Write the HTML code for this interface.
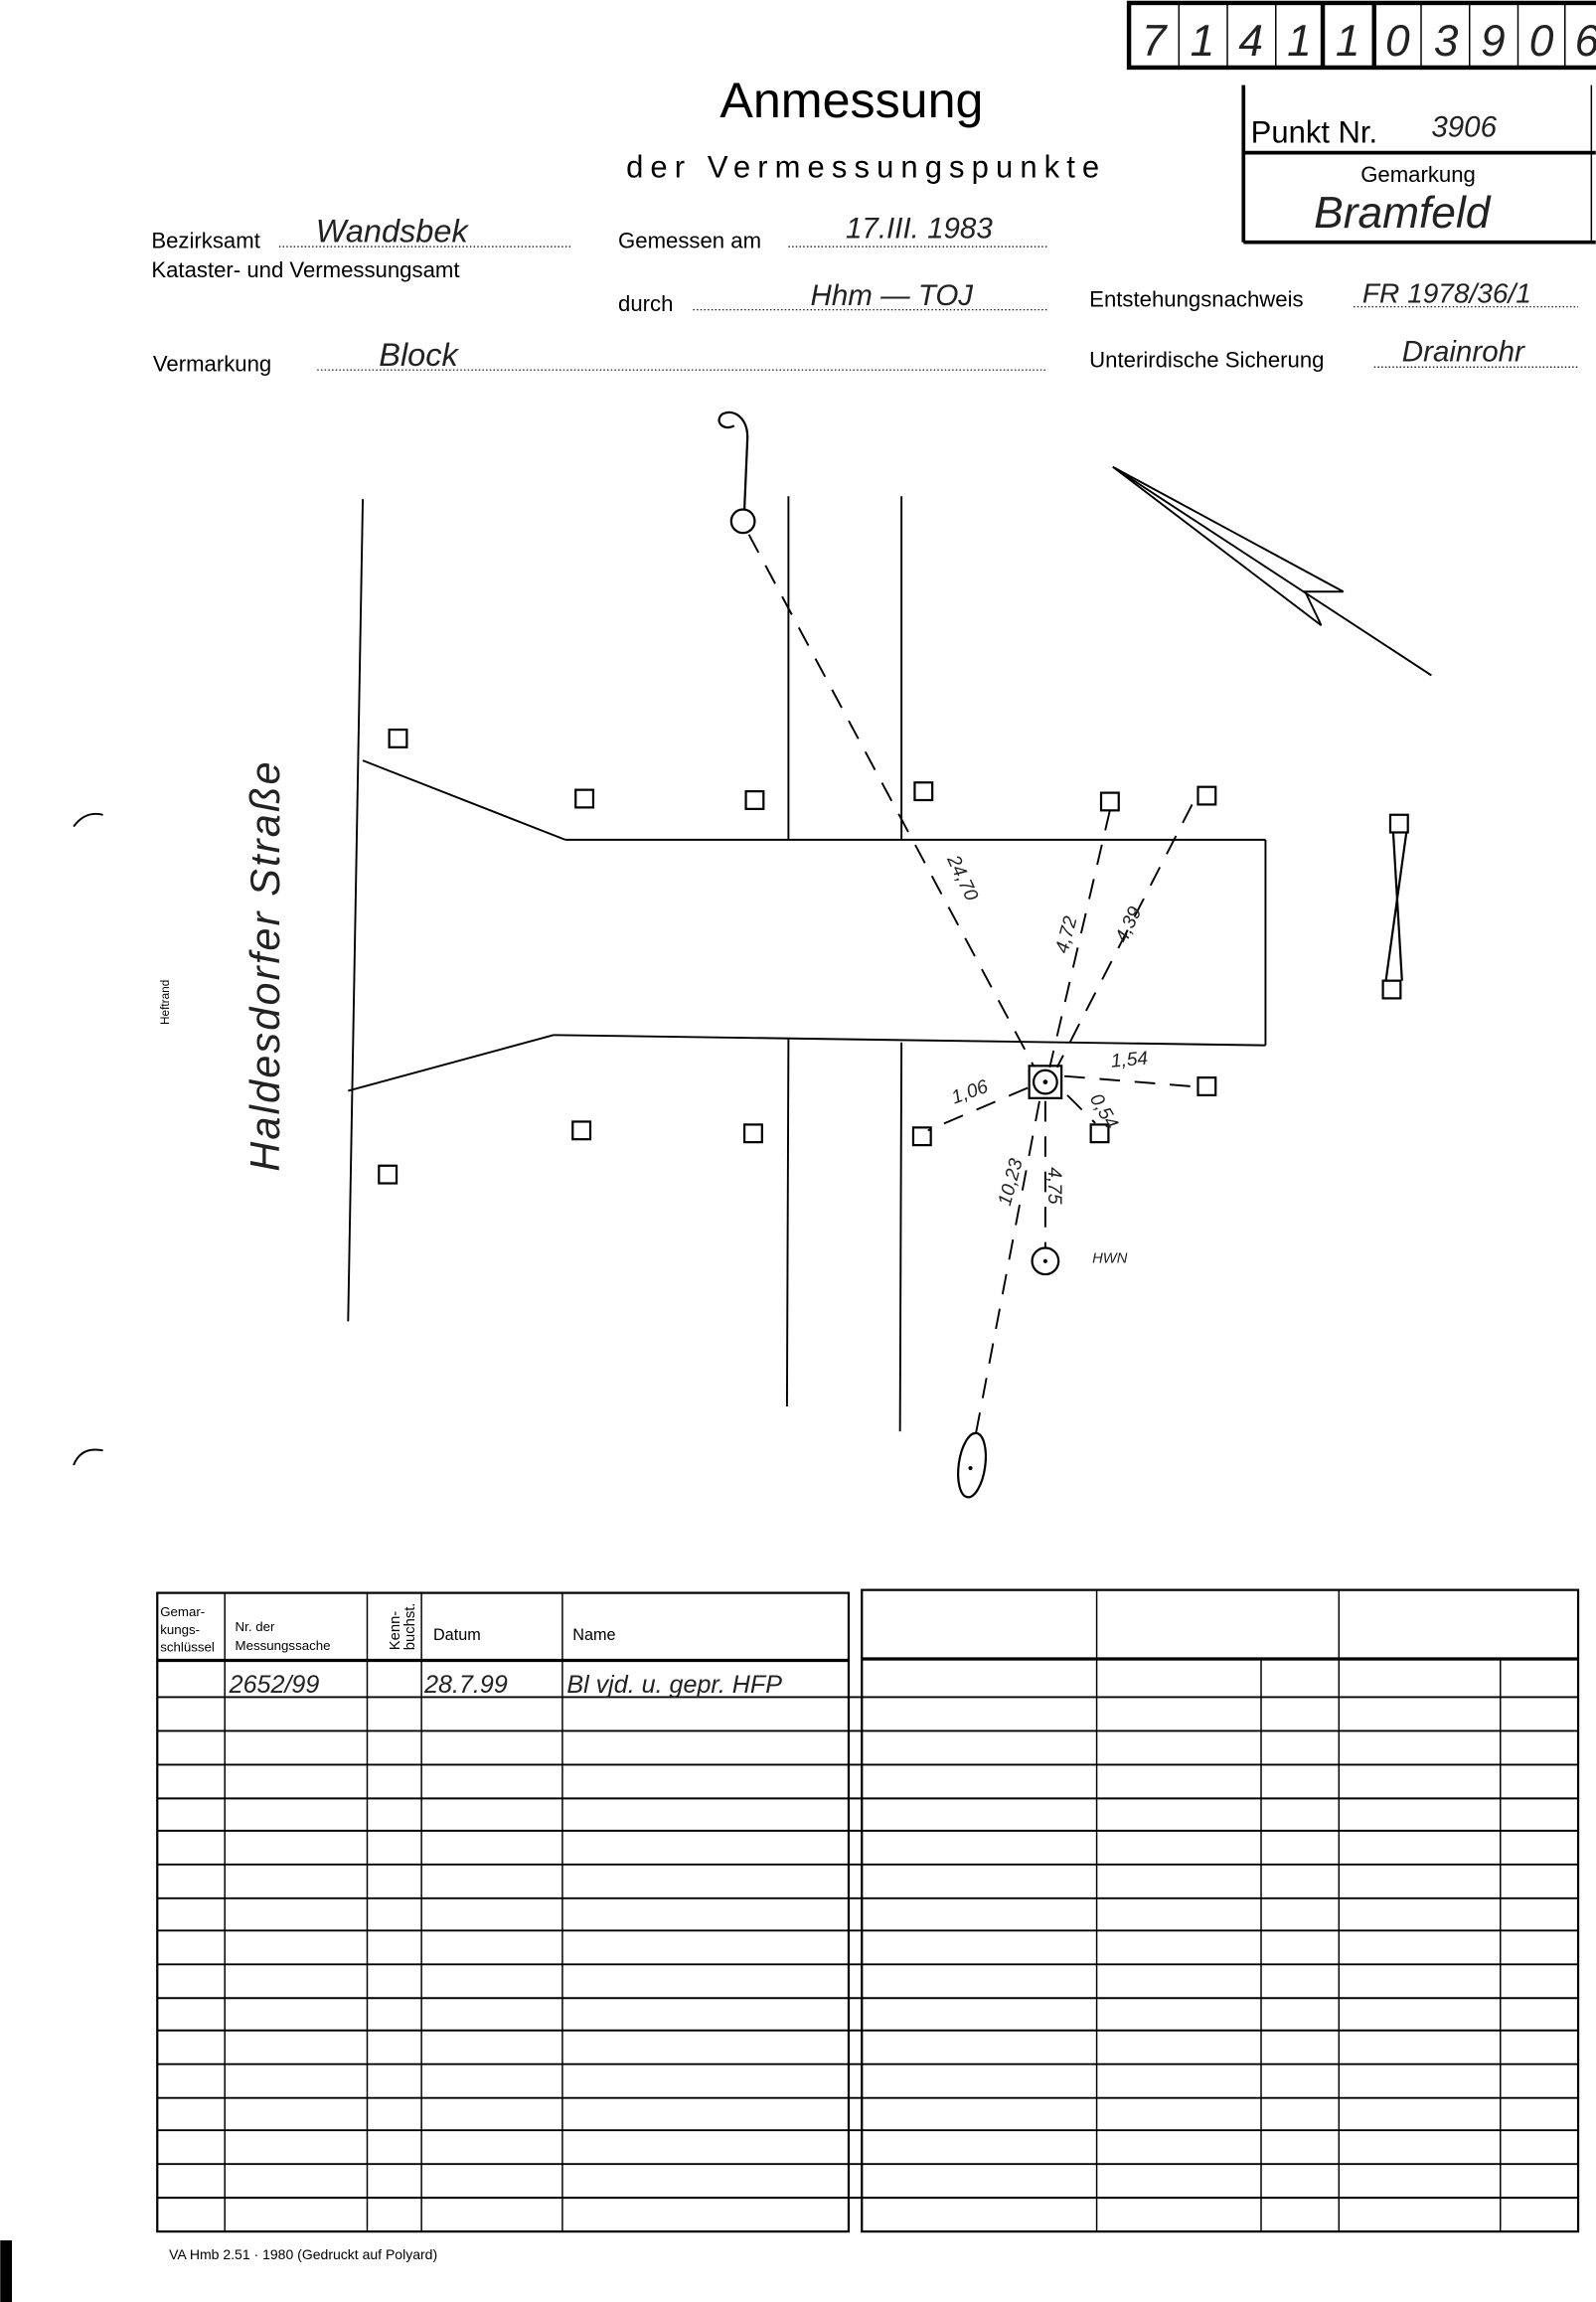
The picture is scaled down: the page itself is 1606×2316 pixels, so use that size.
<!DOCTYPE html>
<html><head><meta charset="utf-8"><style>
html,body{margin:0;padding:0;background:#fff;}
svg{display:block;}
.f{font-family:"Liberation Sans",sans-serif;fill:#000;}
.h{font-family:"Liberation Sans",sans-serif;font-style:italic;fill:#222;}
</style></head><body>
<svg width="1606" height="2316" viewBox="0 0 1087 1568" xmlns="http://www.w3.org/2000/svg">
<rect width="1087" height="1568" fill="#fff"/>
<g stroke="#000" fill="none">
<rect x="769" y="2" width="330" height="44" stroke-width="3"/>
<line x1="803" y1="2" x2="803" y2="46" stroke-width="1"/>
<line x1="836" y1="2" x2="836" y2="46" stroke-width="1"/>
<line x1="869" y1="2" x2="869" y2="46" stroke-width="1"/>
<line x1="901" y1="2" x2="901" y2="46" stroke-width="3"/>
<line x1="936" y1="2" x2="936" y2="46" stroke-width="3"/>
<line x1="968" y1="2" x2="968" y2="46" stroke-width="1"/>
<line x1="1001" y1="2" x2="1001" y2="46" stroke-width="1"/>
<line x1="1034" y1="2" x2="1034" y2="46" stroke-width="1"/>
<line x1="1066" y1="2" x2="1066" y2="46" stroke-width="1"/>
</g>
<g class="h" font-size="30" text-anchor="middle">
<text x="786" y="38">7</text><text x="819" y="38">1</text><text x="852" y="38">4</text><text x="885" y="38">1</text><text x="918" y="38">1</text><text x="952" y="38">0</text><text x="985" y="38">3</text><text x="1017" y="38">9</text><text x="1050" y="38">0</text><text x="1081" y="38">6</text>
</g>
<g stroke="#000" fill="none" stroke-width="2.5">
<polyline points="847,165 847,58"/>
<line x1="847" y1="165" x2="1087" y2="165"/>
<line x1="847" y1="104" x2="1087" y2="104"/>
<line x1="1084" y1="58" x2="1084" y2="165" stroke-width="1"/>
</g>
<text class="f" x="852" y="97" font-size="21">Punkt Nr.</text>
<text class="h" x="975" y="93" font-size="20">3906</text>
<text class="f" x="966" y="124" font-size="15" text-anchor="middle">Gemarkung</text>
<text class="h" x="955" y="155" font-size="30" text-anchor="middle">Bramfeld</text>
<text class="f" x="580" y="80" font-size="34" text-anchor="middle">Anmessung</text>
<text class="f" x="590" y="121" font-size="21" text-anchor="middle" letter-spacing="4.8">der Vermessungspunkte</text>
<g class="f" font-size="15">
<text x="103" y="169">Bezirksamt</text>
<text x="103" y="189">Kataster- und Vermessungsamt</text>
<text x="421" y="169">Gemessen am</text>
<text x="421" y="212">durch</text>
<text x="742" y="209">Entstehungsnachweis</text>
<text x="104" y="253">Vermarkung</text>
<text x="742" y="250">Unterirdische Sicherung</text>
</g>
<g stroke="#000" stroke-width="0.8" stroke-dasharray="1,1.5">
<line x1="190" y1="168" x2="390" y2="168"/>
<line x1="537" y1="168" x2="713" y2="168"/>
<line x1="472" y1="211" x2="713" y2="211"/>
<line x1="922" y1="209" x2="1075" y2="209"/>
<line x1="216" y1="252" x2="713" y2="252"/>
<line x1="936" y1="250" x2="1075" y2="250"/>
</g>
<g class="h" font-size="22">
<text x="215" y="165">Wandsbek</text>
<text x="576" y="162" font-size="20">17.III. 1983</text>
<text x="552" y="208" font-size="20">Hhm — TOJ</text>
<text x="928" y="206" font-size="19">FR 1978/36/1</text>
<text x="258" y="249">Block</text>
<text x="955" y="246" font-size="20">Drainrohr</text>
</g>
<g stroke="#000" stroke-width="1.3" fill="none">
<line x1="247" y1="340" x2="237" y2="900"/>
<line x1="247" y1="518" x2="385" y2="572"/>
<line x1="237" y1="743" x2="377" y2="705"/>
<line x1="385" y1="572" x2="862" y2="572"/>
<line x1="862" y1="572" x2="862" y2="712"/>
<line x1="377" y1="705" x2="862" y2="712"/>
<line x1="537" y1="338" x2="537" y2="572"/>
<line x1="614" y1="338" x2="614" y2="572"/>
<line x1="537" y1="707" x2="536" y2="958"/>
<line x1="614" y1="710" x2="613" y2="975"/>
<g stroke-width="1.5">
<rect x="265" y="497" width="12" height="12"/>
<rect x="392" y="538" width="12" height="12"/>
<rect x="508" y="539" width="12" height="12"/>
<rect x="623" y="533" width="12" height="12"/>
<rect x="750" y="540" width="12" height="12"/>
<rect x="816" y="536" width="12" height="12"/>
<rect x="390" y="764" width="12" height="12"/>
<rect x="507" y="766" width="12" height="12"/>
<rect x="258" y="794" width="12" height="12"/>
<rect x="622" y="768" width="12" height="12"/>
<rect x="743" y="766" width="12" height="12"/>
<rect x="816" y="734" width="12" height="12"/>
<rect x="701" y="726" width="22" height="22"/>
<circle cx="712" cy="737" r="8"/>
<circle cx="712" cy="859" r="9"/>
<circle cx="506" cy="355" r="8"/>
<ellipse cx="662" cy="998" rx="9" ry="22" transform="rotate(8 662 998)"/>
<path d="M507,347 L509,300 C510,285 500,278 492,282 C486,287 493,294 500,290"/>
<rect x="947" y="555" width="12" height="12"/>
<rect x="942" y="668" width="12" height="12"/>
<line x1="949" y1="567" x2="955" y2="668"/>
<line x1="958" y1="567" x2="944" y2="668"/>
</g>
<g stroke-dasharray="14,10">
<line x1="510" y1="364" x2="704" y2="726"/>
<line x1="756" y1="552" x2="715" y2="727"/>
<line x1="812" y1="548" x2="720" y2="727"/>
<line x1="712" y1="750" x2="712" y2="850"/>
<line x1="708" y1="750" x2="664" y2="980"/>
<line x1="700" y1="741" x2="632" y2="770"/>
<line x1="725" y1="733" x2="812" y2="740"/>
<line x1="727" y1="746" x2="746" y2="765"/>
</g>
<line x1="758" y1="318" x2="975" y2="460"/>
<polyline points="758,318 915,403 889,403 900,426 758,318"/>
</g>
<g fill="#000"><circle cx="712" cy="737" r="1.6"/><circle cx="712" cy="859" r="1.4"/><circle cx="661" cy="1000" r="1.4"/></g>
<g class="h" font-size="13">
<text transform="translate(645,585) rotate(65)">24,70</text>
<text transform="translate(727,650) rotate(-75)">4,72</text>
<text transform="translate(767,643) rotate(-65)">4,39</text>
<text transform="translate(650,752) rotate(-20)">1,06</text>
<text transform="translate(757,727) rotate(-5)">1,54</text>
<text transform="translate(742,748) rotate(60)">0,54</text>
<text transform="translate(688,822) rotate(-75)">10,23</text>
<text transform="translate(714,795) rotate(90)">4,75</text>
<text x="744" y="860" font-size="10">HWN</text>
</g>
<text class="h" font-size="28" letter-spacing="1.5" transform="translate(190,798) rotate(-90)">Haldesdorfer  Straße</text>
<text class="f" font-size="8" transform="translate(115,698) rotate(-90)">Heftrand</text>
<path d="M50,563 Q58,552 70,555" stroke="#000" fill="none" stroke-width="1.3"/>
<path d="M50,998 Q55,985 70,988" stroke="#000" fill="none" stroke-width="1.3"/>
<g stroke="#000" fill="none" stroke-width="1">
<rect x="107" y="1085" width="471" height="435" stroke-width="1.5"/>
<line x1="107" y1="1131" x2="578" y2="1131" stroke-width="2.2"/>
<rect x="587" y="1083" width="488" height="437" stroke-width="1.5"/>
<line x1="587" y1="1130" x2="1075" y2="1130" stroke-width="2.2"/>
<line x1="153" y1="1085" x2="153" y2="1520"/>
<line x1="250" y1="1085" x2="250" y2="1520"/>
<line x1="287" y1="1085" x2="287" y2="1520"/>
<line x1="383" y1="1085" x2="383" y2="1520"/>
<line x1="747" y1="1083" x2="747" y2="1520"/>
<line x1="912" y1="1083" x2="912" y2="1520"/>
<line x1="859" y1="1130" x2="859" y2="1520"/>
<line x1="1022" y1="1130" x2="1022" y2="1520"/>
<g stroke-width="1.3">
<line x1="107" y1="1156" x2="1075" y2="1156"/>
<line x1="107" y1="1179" x2="1075" y2="1179"/>
<line x1="107" y1="1202" x2="1075" y2="1202"/>
<line x1="107" y1="1225" x2="1075" y2="1225"/>
<line x1="107" y1="1247" x2="1075" y2="1247"/>
<line x1="107" y1="1270" x2="1075" y2="1270"/>
<line x1="107" y1="1293" x2="1075" y2="1293"/>
<line x1="107" y1="1315" x2="1075" y2="1315"/>
<line x1="107" y1="1338" x2="1075" y2="1338"/>
<line x1="107" y1="1361" x2="1075" y2="1361"/>
<line x1="107" y1="1383" x2="1075" y2="1383"/>
<line x1="107" y1="1406" x2="1075" y2="1406"/>
<line x1="107" y1="1429" x2="1075" y2="1429"/>
<line x1="107" y1="1451" x2="1075" y2="1451"/>
<line x1="107" y1="1474" x2="1075" y2="1474"/>
<line x1="107" y1="1497" x2="1075" y2="1497"/>
</g>
</g>
<g class="f" font-size="9">
<text x="109" y="1101">Gemar-</text><text x="109" y="1113">kungs-</text><text x="109" y="1125">schlüssel</text>
<text x="160" y="1111">Nr. der</text><text x="160" y="1124">Messungssache</text>
<text font-size="10" transform="translate(272,1124) rotate(-90)">Kenn-</text>
<text font-size="10" transform="translate(282,1124) rotate(-90)">buchst.</text>
<text x="295" y="1117" font-size="11">Datum</text>
<text x="390" y="1117" font-size="11">Name</text>
</g>
<g class="h" font-size="17">
<text x="156" y="1153">2652/99</text>
<text x="289" y="1153">28.7.99</text>
<text x="386" y="1153">Bl vjd. u. gepr. HFP</text>
</g>
<text class="f" x="115" y="1539" font-size="9.5">VA Hmb 2.51 · 1980 (Gedruckt auf Polyard)</text>
<rect x="0" y="1526" width="8" height="42" fill="#000"/>
</svg>
</body></html>
